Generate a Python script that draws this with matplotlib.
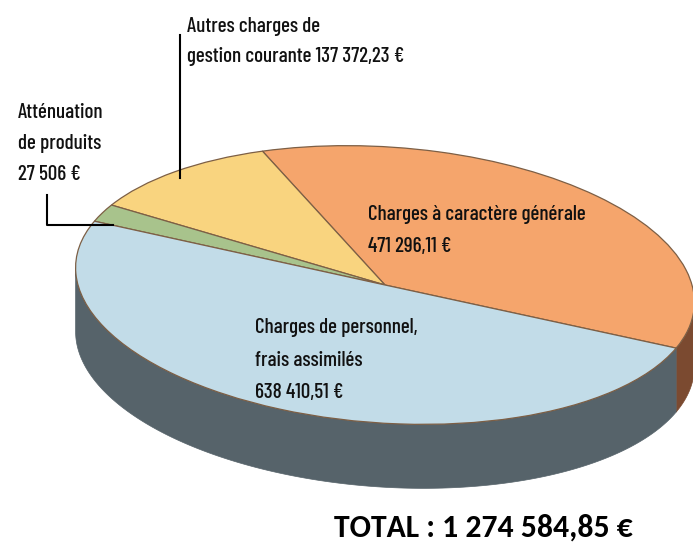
import numpy as np
import matplotlib
matplotlib.use("Agg")
import matplotlib.pyplot as plt
from matplotlib.transforms import Affine2D
from matplotlib.patches import Polygon

# ---- data ----
categories = ["Charges à caractère générale",
              "Autres charges de gestion courante",
              "Atténuation de produits",
              "Charges de personnel, frais assimilés"]
values = [471296.11, 137372.23, 27506.0, 638410.51]
label_texts = ["Charges à caractère générale\n471 296,11 €",
               "Autres charges de\ngestion courante 137 372,23 €",
               "Atténuation\nde produits\n27 506 €",
               "Charges de personnel,\nfrais assimilés\n638 410,51 €"]
total_text = "TOTAL : 1 274 584,85 €"

top_colors = ["#f5a56c", "#f9d47f", "#a8c38c", "#c2dce8"]
side_colors = ["#7b4a30", "#a98a48", "#6f8a5c", "#56636a"]

W, H = 693, 542
fig = plt.figure(figsize=(W / 100, H / 100), dpi=100)
ax = fig.add_axes([0, 0, 1, 1])

wedges, _ = ax.pie(values, colors=top_colors, startangle=-18, counterclock=True,
                   radius=1, center=(0, 0),
                   wedgeprops=dict(linewidth=0.9, edgecolor="#7d5f45"))
ax.set_aspect("auto")
ax.set_xlim(0, W)
ax.set_ylim(H, 0)
ax.axis("off")

# ellipse geometry (pixel coords, y down)
cx, cy, a, b, rot, h = 385, 285, 310, 138, 4, 64
T = Affine2D().scale(a, -b).rotate_deg(rot).translate(cx, cy)

# visible (front) arc of the side
tt = np.linspace(0, 360, 3601)
pts = T.transform(np.c_[np.cos(np.radians(tt)), np.sin(np.radians(tt))])
t_left = tt[np.argmin(pts[:, 0])]
t_right = tt[np.argmax(pts[:, 0])]
if t_right < t_left:
    t_right += 360

for w, sc in zip(wedges, side_colors):
    t1, t2 = w.theta1, w.theta2
    for off in (-360, 0, 360):
        lo = max(t1 + off, t_left)
        hi = min(t2 + off, t_right)
        if hi > lo:
            ts = np.radians(np.linspace(lo, hi, 200))
            top = T.transform(np.c_[np.cos(ts), np.sin(ts)])
            bot = top + np.array([0, h])
            poly = Polygon(np.vstack([top, bot[::-1]]), closed=True,
                           facecolor=sc, edgecolor=sc, linewidth=0.5, zorder=1)
            ax.add_patch(poly)

for w in wedges:
    w.set_transform(T + ax.transData)
    w.set_zorder(2)

lab_font = ["Barlow Condensed", "Roboto Condensed", "Sofia Sans Condensed", "DejaVu Sans"]
fs = 15.2
# (x, first baseline, line spacing) for each label block
placements = [(368, 220, 32), (187, 32, 30), (18, 118, 31), (255, 333, 32.5)]
for txt, (x0, y0, dy) in zip(label_texts, placements):
    for i, line in enumerate(txt.split("\n")):
        ax.text(x0, y0 + i * dy, line, fontsize=fs, family=lab_font,
                fontweight=500, va="baseline", ha="left", zorder=5,
                color="#111111")

# leader lines
ax.plot([180, 180], [35, 178], color="black", lw=1.5, zorder=5)
ax.plot([47, 47, 113], [195, 225, 225], color="black", lw=1.5, zorder=5)

ax.text(483, 537, total_text, fontsize=22.8, family=["Carlito", "Open Sans", "DejaVu Sans"],
        fontweight="bold", ha="center", va="baseline", zorder=5)

fig.savefig("out.png", dpi=100)
